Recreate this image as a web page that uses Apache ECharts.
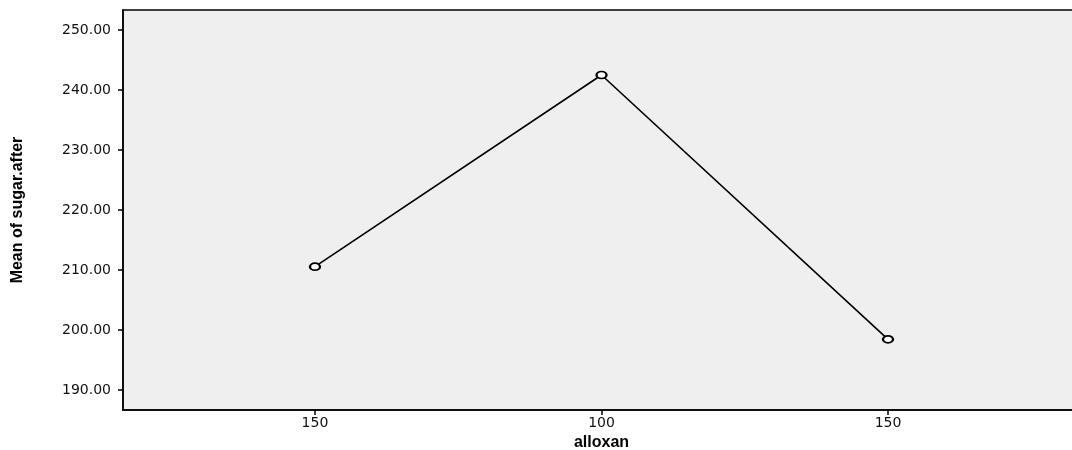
<!DOCTYPE html>
<html>
<head>
<meta charset="utf-8">
<script src="https://cdn.jsdelivr.net/npm/echarts@6/dist/echarts.min.js"></script>
<style>html,body{margin:0;padding:0;background:#fff}#c{width:1072px;height:450px}</style>
</head>
<body>
<div id="c"></div>
<script>
var xLabels = ["150", "100", "150"];
var xPositions = [1, 2, 3];
var meanValues = [210.55, 242.5, 198.45];
var yTicks = [190, 200, 210, 220, 230, 240, 250];

var chart = echarts.init(document.getElementById('c'), null, {renderer: 'canvas'});
var seriesData = xPositions.map(function (p, i) { return [p, meanValues[i]]; });
chart.setOption({
  animation: false,
  backgroundColor: '#ffffff',
  grid: {
    left: 123, top: 10, right: -8, bottom: 40,
    containLabel: false, outerBoundsMode: 'none',
    show: true, backgroundColor: '#efefef', borderColor: '#000', borderWidth: 1.5
  },
  xAxis: {
    type: 'value', min: 0.33, max: 3.67,
    name: 'alloxan', nameLocation: 'middle', nameGap: 23,
    nameTextStyle: {fontFamily: 'Liberation Sans, Arial, sans-serif', fontWeight: 'bold', fontSize: 16, color: '#000'},
    axisLine: {show: true, lineStyle: {color: '#000', width: 1.5}},
    axisTick: {show: true, length: 5, lineStyle: {color: '#000', width: 1.5}, customValues: xPositions},
    axisLabel: {
      customValues: xPositions, margin: 6,
      fontFamily: 'DejaVu Sans, sans-serif', fontSize: 14, color: '#111',
      formatter: function (v) { return xLabels[Math.round(v) - 1]; }
    },
    splitLine: {show: false}
  },
  yAxis: {
    type: 'value', min: 186.6667, max: 253.3333,
    name: 'Mean of sugar.after', nameLocation: 'middle', nameGap: 97, nameRotate: 90,
    nameTextStyle: {fontFamily: 'Liberation Sans Narrow, Arial Narrow, Liberation Sans, sans-serif', fontWeight: 'bold', fontSize: 16, color: '#000'},
    axisLine: {show: true, lineStyle: {color: '#000', width: 1.5}},
    axisTick: {show: true, length: 5, lineStyle: {color: '#000', width: 1.5}, customValues: yTicks},
    axisLabel: {
      customValues: yTicks, margin: 12,
      fontFamily: 'DejaVu Sans, sans-serif', fontSize: 14, color: '#111',
      formatter: function (v) { return v.toFixed(2); }
    },
    splitLine: {show: false}
  },
  series: [{
    type: 'line',
    data: seriesData,
    symbol: 'emptyCircle',
    symbolSize: [10, 7],
    lineStyle: {color: '#000', width: 1.6},
    itemStyle: {color: '#000', borderColor: '#000', borderWidth: 1.5}
  }]
});
</script>
</body>
</html>
